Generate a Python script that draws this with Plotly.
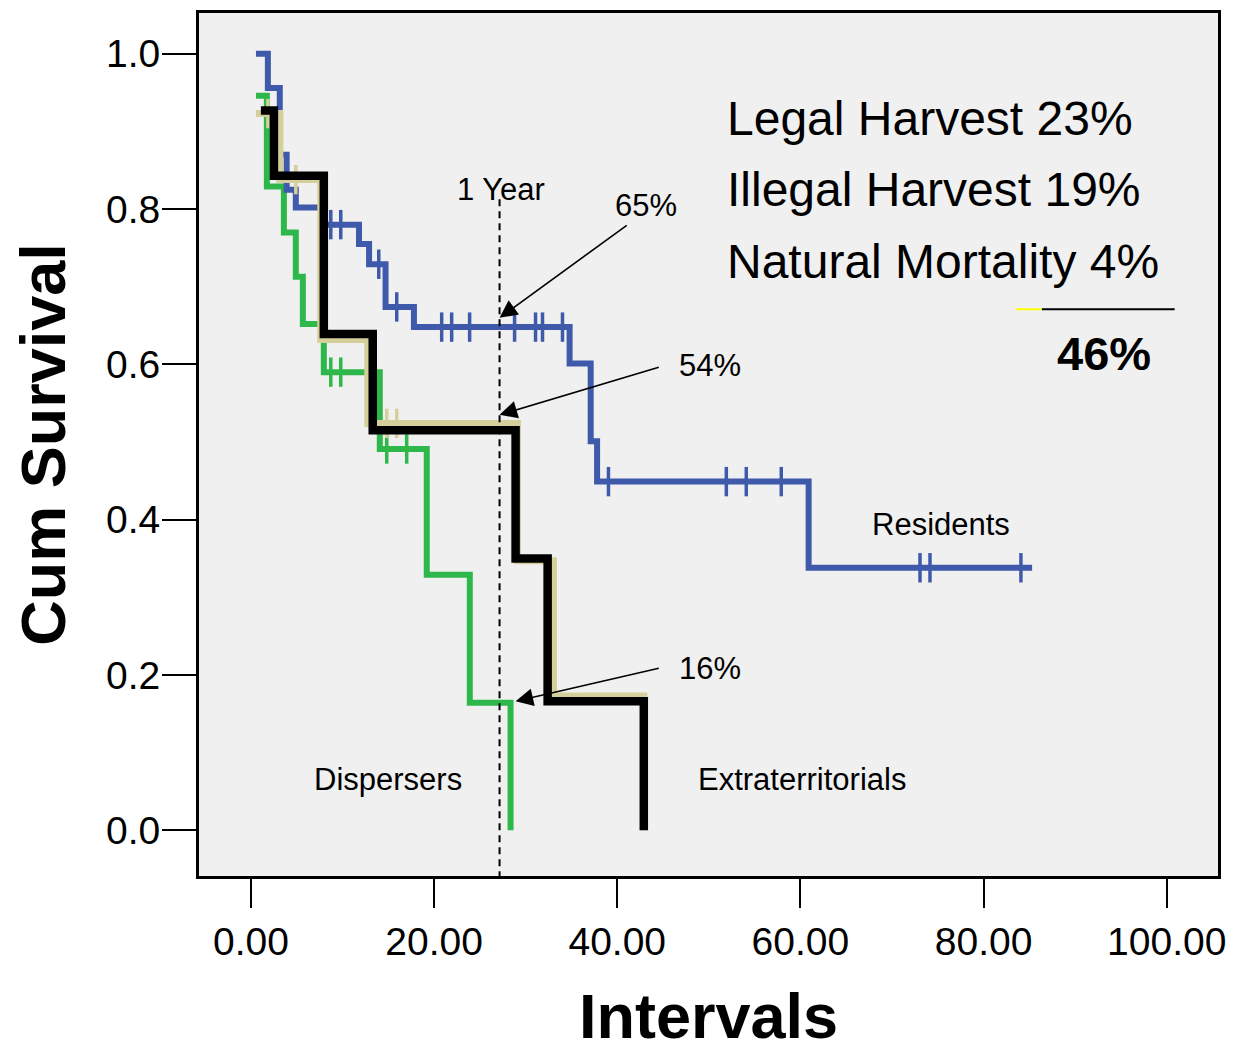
import plotly.graph_objects as go

# ---------------- data ----------------
# Residents (blue)
res_t = [0.55, 1.85, 3.15, 3.9, 4.9, 7.85, 11.8, 12.9, 14.7, 17.8, 34.8, 37.1, 37.8, 60.9, 85.3]
res_s = [1.0, 0.956, 0.870, 0.825, 0.802, 0.780, 0.755, 0.729, 0.674, 0.648, 0.601, 0.501, 0.449, 0.338, 0.338]
res_cens = [8.72, 9.81, 13.96, 15.92, 20.83, 21.92, 23.88, 28.79, 31.08, 31.84, 34.02,
            39.04, 51.91, 54.09, 57.91, 73.06, 74.15, 84.08]

# Extraterritorials (black, highlighted)
ext_t = [1.09, 2.51, 7.96, 13.3, 28.9, 32.4, 42.9]
ext_s = [0.927, 0.843, 0.639, 0.515, 0.350, 0.166, 0.0]

# Extraterritorials original curve (tan, underneath)
tan_t = [0.55, 3.16, 7.63, 12.76, 29.1, 33.04, 42.9]
tan_s = [0.923, 0.838, 0.632, 0.524, 0.347, 0.173, 0.0]
tan_cens = [1.85, 4.9, 14.83, 15.92]

# Dispersers (green)
dis_t = [0.55, 1.74, 3.6, 4.9, 5.67, 7.96, 14.07, 19.2, 23.9, 28.35]
dis_s = [0.946, 0.829, 0.770, 0.713, 0.652, 0.590, 0.491, 0.329, 0.164, 0.0]
dis_cens = [8.72, 9.81, 14.83, 17.01]

x_ticks = [0, 20, 40, 60, 80, 100]
y_ticks = [0.0, 0.2, 0.4, 0.6, 0.8, 1.0]

one_year = 27.15
arrow_labels = ["65%", "54%", "16%"]
arrow_heads = [(27.15, 0.660), (27.15, 0.535), (28.9, 0.166)]
arrow_tails = [(41.2, 0.7805), (44.7, 0.597), (44.7, 0.209)]

mortality_lines = ["Legal Harvest 23%", "Illegal Harvest 19%", "Natural Mortality 4%"]
total_text = "46%"

BLUE = "#3f5aab"
GREEN = "#2eb84b"
TAN = "#d4cf9b"
BLACK = "#000000"
FONT = "Liberation Sans, Arial, sans-serif"


def surv_at(t, times, surv):
    v = surv[0]
    for ti, si in zip(times, surv):
        if ti <= t:
            v = si
    return v


fig = go.Figure()


def add_curve(times, surv, color, width, cens=None):
    fig.add_trace(go.Scatter(x=times, y=surv, mode="lines", line_shape="hv",
                             line=dict(color=color, width=width), hoverinfo="skip",
                             showlegend=False))
    if cens:
        fig.add_trace(go.Scatter(
            x=cens, y=[surv_at(c, times, surv) for c in cens], mode="markers",
            marker=dict(symbol="line-ns", size=21, line=dict(color=color, width=3.5)),
            hoverinfo="skip", showlegend=False))


add_curve(dis_t, dis_s, GREEN, 6, dis_cens)
add_curve(res_t, res_s, BLUE, 6, res_cens)
add_curve(tan_t, tan_s, TAN, 7, tan_cens)
add_curve(ext_t, ext_s, BLACK, 8.5)

# 1-year dashed line
fig.add_shape(type="line", xref="x", yref="y", x0=one_year, x1=one_year, y0=0.8126, y1=-0.059,
              line=dict(color="black", width=2, dash="7px,5px"))

ann = []
txt_font = dict(family=FONT, size=31, color="black")
ann.append(dict(x=27.26, y=0.825, text="1 Year", showarrow=False, font=txt_font))
label_pos = [(43.18, 0.805), (50.16, 0.598), (50.16, 0.208)]
for lab, (lx, ly) in zip(arrow_labels, label_pos):
    ann.append(dict(x=lx, y=ly, text=lab, showarrow=False, font=txt_font))
for (hx, hy), (tx, ty) in zip(arrow_heads, arrow_tails):
    ann.append(dict(x=hx, y=hy, ax=tx, ay=ty, xref="x", yref="y", axref="x", ayref="y",
                    text="", showarrow=True, arrowhead=2, arrowsize=2.2, arrowwidth=1.6,
                    arrowcolor="black", standoff=0))
ann.append(dict(x=75.35, y=0.394, text="Residents", showarrow=False, font=txt_font))
ann.append(dict(x=14.94, y=0.0655, text="Dispersers", showarrow=False, font=txt_font))
ann.append(dict(x=60.2, y=0.0655, text="Extraterritorials", showarrow=False, font=txt_font))

big_font = dict(family=FONT, size=48, color="black")
for txt, yy in zip(mortality_lines, [0.917, 0.8255, 0.732]):
    ann.append(dict(x=51.8, y=yy, text=txt, xanchor="left", showarrow=False, font=big_font))
ann.append(dict(x=93.13, y=0.614, text="<b>" + total_text + "</b>", showarrow=False,
                font=dict(family=FONT, size=47, color="black")))

fig.add_shape(type="line", xref="x", yref="y", x0=83.53, x1=86.37, y0=0.671, y1=0.671,
              line=dict(color="#ffff00", width=2))
fig.add_shape(type="line", xref="x", yref="y", x0=86.37, x1=100.87, y0=0.671, y1=0.671,
              line=dict(color="black", width=2))

fig.update_layout(
    width=1235, height=1043,
    margin=dict(l=191, r=25, t=2, b=175),
    paper_bgcolor="white", plot_bgcolor="#f0f0f0",
    annotations=ann,
    font=dict(family=FONT, color="black"),
    xaxis=dict(range=[-5.67, 105.6], tickvals=x_ticks, tickformat=".2f",
               ticks="outside", ticklen=29, tickwidth=2, tickcolor="black",
               tickfont=dict(family=FONT, size=39, color="black"),
               showline=True, linewidth=3, linecolor="black", mirror=True,
               showgrid=False, zeroline=False,
               title=dict(text="<b>Intervals</b>", font=dict(family=FONT, size=63, color="black"),
                          standoff=39)),
    yaxis=dict(range=[-0.059, 1.0526], tickvals=y_ticks, tickformat=".1f",
               ticks="outside", ticklen=34, tickwidth=2, tickcolor="black",
               ticklabelstandoff=-6,
               tickfont=dict(family=FONT, size=39, color="black"),
               showline=True, linewidth=3, linecolor="black", mirror=True,
               showgrid=False, zeroline=False,
               title=dict(text="<b>Cum Survival</b>", font=dict(family=FONT, size=63, color="black"),
                          standoff=22)),
)

fig.write_html("out.html")
